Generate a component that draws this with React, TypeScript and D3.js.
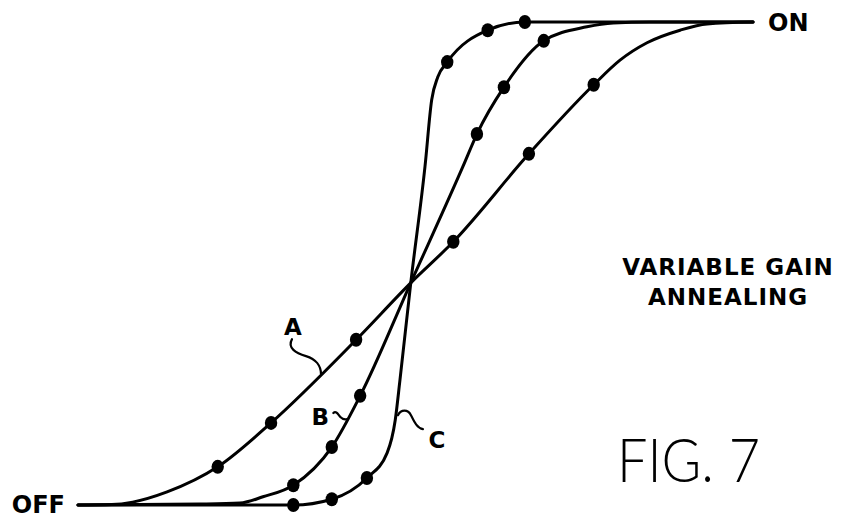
import { useEffect, useRef } from "react";
import * as d3 from "d3";

// input level (0-100) vs. output level (0 = OFF, 100 = ON)
const curveA: [number, number][] = [
  [0, 0], [5, 0.1], [8.1, 0.6], [13.2, 2.7], [20.7, 7.9], [28.6, 17.0], [41.2, 34.2],
  [49.3, 46.0], [55.6, 54.5], [66.8, 72.7], [76.4, 87.0], [80.3, 92.1], [84.3, 95.7],
  [89.2, 98.3], [93.2, 99.6], [100, 100],
];
const dotsA: [number, number][] = [
  [20.7, 7.9], [28.6, 17.0], [41.2, 34.2], [55.6, 54.5], [66.8, 72.7], [76.4, 87.0],
];

const curveB: [number, number][] = [
  [0, 0], [18.1, 0.2], [24.0, 0.4], [27.4, 1.7], [31.9, 4.1], [37.6, 12.0], [41.8, 22.6],
  [49.3, 46.0], [57.0, 70.0], [59.1, 76.8], [63.1, 86.5], [69.0, 96.1], [75.4, 99.0],
  [79.3, 99.8], [84.7, 100], [100, 100],
];
const dotsB: [number, number][] = [
  [31.9, 4.1], [37.6, 12.0], [41.8, 22.6], [59.1, 76.8], [63.1, 86.5], [69.0, 96.1],
];

const curveC: [number, number][] = [
  [0, 0], [31.9, 0], [37.6, 1.2], [42.8, 5.6], [45.8, 10.8], [47.0, 17.6], [47.7, 25.9],
  [49.3, 46.0], [51.4, 70.0], [52.4, 83.9], [53.3, 88.6], [54.7, 91.7], [60.7, 98.3],
  [66.2, 100], [71.4, 100], [100, 100],
];
const dotsC: [number, number][] = [
  [31.9, 0], [37.6, 1.2], [42.8, 5.6], [54.7, 91.7], [60.7, 98.3], [66.2, 100],
];

const curveNames = ["A", "B", "C"];
// where each label's leader touches its curve
const leaderAt: [number, number][] = [[36.0, 27.1], [39.9, 17.8], [47.4, 18.6]];
const levelLabels = ["OFF", "ON"];
const titleLines = ["VARIABLE GAIN", "ANNEALING"];
const figLabel = "FIG. 7";

export default function App() {
  const ref = useRef<SVGSVGElement>(null);

  useEffect(() => {
    const width = 843;
    const height = 521;
    const font = "'DejaVu Sans', sans-serif";

    const svg = d3.select(ref.current);
    svg.selectAll("*").remove();
    svg.attr("viewBox", `0 0 ${width} ${height}`);

    svg.append("rect").attr("width", width).attr("height", height).attr("fill", "#fff");

    const x = d3.scaleLinear().domain([0, 100]).range([78, 753]);
    const y = d3.scaleLinear().domain([0, 100]).range([505, 22]);

    const line = d3
      .line<[number, number]>()
      .x((d) => x(d[0]))
      .y((d) => y(d[1]))
      .curve(d3.curveMonotoneX);

    const curves = [curveA, curveB, curveC];
    const dots = [dotsA, dotsB, dotsC];

    svg
      .append("g")
      .selectAll("path")
      .data(curves)
      .join("path")
      .attr("d", (d) => line(d))
      .attr("fill", "none")
      .attr("stroke", "#000")
      .attr("stroke-width", 3)
      .attr("stroke-linecap", "round")
      .attr("stroke-linejoin", "round");

    svg
      .append("g")
      .selectAll("ellipse")
      .data(dots.flat())
      .join("ellipse")
      .attr("cx", (d) => x(d[0]))
      .attr("cy", (d) => y(d[1]))
      .attr("rx", 6.2)
      .attr("ry", 7)
      .attr("fill", "#000");

    // curve labels with squiggly leaders
    const leaderPaths = [
      (ex: number, ey: number) =>
        `M${ex - 29},${ey - 35} C${ex - 34},${ey - 26} ${ex - 25},${ey - 21} ${ex - 15},${ey - 18} S${ex},${ey - 8} ${ex},${ey}`,
      (ex: number, ey: number) =>
        `M${ex - 14},${ey - 6} C${ex - 11},${ey - 9} ${ex - 9},${ey - 4} ${ex - 7},${ey - 2} S${ex - 3},${ey + 1} ${ex},${ey}`,
      (ex: number, ey: number) =>
        `M${ex},${ey} C${ex + 3},${ey - 6} ${ex + 10},${ey - 6} ${ex + 13},${ey} S${ex + 19},${ey + 13} ${ex + 25},${ey + 14}`,
    ];
    const labelOffset = [[-28, -39], [-27, 6], [39, 33]];

    curveNames.forEach((name, i) => {
      const ex = x(leaderAt[i][0]);
      const ey = y(leaderAt[i][1]);
      svg
        .append("path")
        .attr("d", leaderPaths[i](ex, ey))
        .attr("fill", "none")
        .attr("stroke", "#000")
        .attr("stroke-width", 2.2)
        .attr("stroke-linecap", "round");
      svg
        .append("text")
        .attr("x", ex + labelOffset[i][0])
        .attr("y", ey + labelOffset[i][1])
        .attr("text-anchor", "middle")
        .attr("font-family", font)
        .attr("font-weight", "bold")
        .attr("font-size", 23)
        .text(name);
    });

    svg
      .append("text")
      .attr("x", x(0) - 13)
      .attr("y", y(0) + 8)
      .attr("text-anchor", "end")
      .attr("font-family", font)
      .attr("font-weight", "bold")
      .attr("font-size", 24)
      .text(levelLabels[0]);

    svg
      .append("text")
      .attr("x", x(100) + 15)
      .attr("y", y(100) + 9)
      .attr("font-family", font)
      .attr("font-weight", "bold")
      .attr("font-size", 24)
      .text(levelLabels[1]);

    svg
      .append("g")
      .selectAll("text")
      .data(titleLines)
      .join("text")
      .attr("x", 728)
      .attr("y", (_, i) => 275 + i * 30)
      .attr("text-anchor", "middle")
      .attr("font-family", font)
      .attr("font-weight", "bold")
      .attr("font-size", 23)
      .attr("letter-spacing", 1)
      .text((d) => d);

    svg
      .append("text")
      .attr("x", 617)
      .attr("y", 482)
      .attr("font-family", "Lato, 'DejaVu Sans', sans-serif")
      .attr("font-weight", 300)
      .attr("font-size", 62)
      .attr("textLength", 143)
      .attr("lengthAdjust", "spacingAndGlyphs")
      .text(figLabel);
  }, []);

  return (
    <svg
      ref={ref}
      width={843}
      height={521}
      style={{ position: "fixed", left: 0, top: 0, display: "block" }}
    />
  );
}
